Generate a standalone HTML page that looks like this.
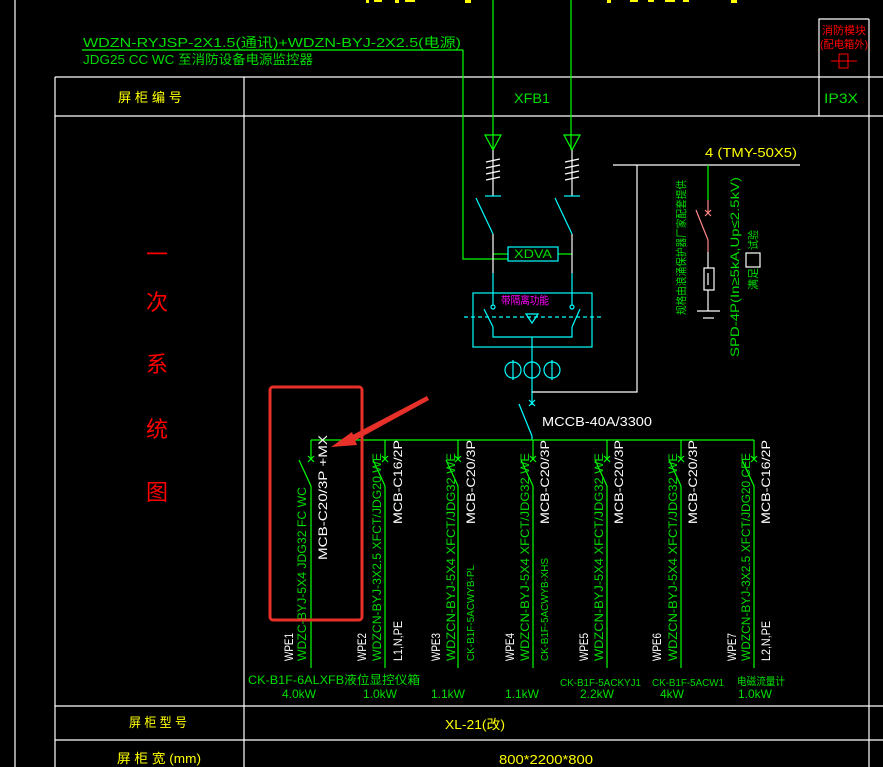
<!DOCTYPE html>
<html><head><meta charset="utf-8"><style>
html,body{margin:0;padding:0;background:#000;width:883px;height:767px;overflow:hidden}
svg{display:block}
text{font-family:"Liberation Sans","Noto Sans CJK SC",sans-serif}
</style></head><body>
<svg width="883" height="767" viewBox="0 0 883 767" xmlns="http://www.w3.org/2000/svg">
<g stroke="#fff" stroke-width="1.2" fill="none">
<line x1="15" y1="0" x2="15" y2="767"/>
<line x1="55" y1="77" x2="883" y2="77"/>
<line x1="55" y1="116" x2="883" y2="116"/>
<line x1="55" y1="706" x2="883" y2="706"/>
<line x1="55" y1="740" x2="883" y2="740"/>
<line x1="55" y1="77" x2="55" y2="767"/>
<line x1="244" y1="77" x2="244" y2="767"/>
<line x1="869" y1="19" x2="869" y2="767"/>
<polyline points="819,116 819,19 869,19"/>
</g>
<g fill="#ff0">
<rect x="366" y="0" width="3" height="3"/><rect x="374" y="0" width="8" height="2"/><rect x="395" y="0" width="4" height="3"/><rect x="405" y="0" width="10" height="2"/><rect x="465" y="0" width="6" height="3"/>
<rect x="607" y="0" width="4" height="3"/><rect x="630" y="0" width="8" height="2"/><rect x="648" y="0" width="6" height="2"/><rect x="665" y="0" width="10" height="2"/><rect x="683" y="0" width="6" height="2"/><rect x="731" y="0" width="6" height="3"/>
</g>
<text x="844" y="34" fill="#f00" font-size="11" text-anchor="middle" textLength="44" lengthAdjust="spacingAndGlyphs">消防模块</text>
<text x="844" y="48" fill="#f00" font-size="11" text-anchor="middle" textLength="48" lengthAdjust="spacingAndGlyphs">(配电箱外)</text>
<rect x="839" y="54" width="9" height="14" fill="none" stroke="#f00"/>
<line x1="831" y1="61" x2="857" y2="61" stroke="#f00"/>
<text x="83" y="47" fill="#0d0" font-size="13" textLength="378" lengthAdjust="spacingAndGlyphs">WDZN-RYJSP-2X1.5(通讯)+WDZN-BYJ-2X2.5(电源)</text>
<line x1="82" y1="50" x2="463" y2="50" stroke="#0f0" stroke-width="1.2"/>
<text x="83" y="64" fill="#0d0" font-size="13" textLength="230" lengthAdjust="spacingAndGlyphs">JDG25  CC  WC  至消防设备电源监控器</text>
<text x="150" y="102" fill="#ff0" font-size="13" text-anchor="middle" textLength="64" lengthAdjust="spacingAndGlyphs">屏 柜 编 号</text>
<text x="532" y="103" fill="#0d0" font-size="14" text-anchor="middle" textLength="36" lengthAdjust="spacingAndGlyphs">XFB1</text>
<text x="841" y="103" fill="#0d0" font-size="14" text-anchor="middle" textLength="34" lengthAdjust="spacingAndGlyphs">IP3X</text>
<g fill="#f00" font-size="22" text-anchor="middle">
<text x="157" y="262">一</text><text x="157" y="310">次</text><text x="157" y="372">系</text><text x="157" y="437">统</text><text x="157" y="500">图</text>
</g>
<g stroke="#0f0" stroke-width="1.2" fill="none">
<polyline points="463,50 463,259 508,259"/>
<line x1="493" y1="0" x2="493" y2="150"/>
<line x1="571" y1="0" x2="571" y2="150"/>
<line x1="493" y1="254" x2="508" y2="254"/>
<line x1="558" y1="254" x2="572" y2="254"/>
<polygon points="485,135 501,135 493,150"/>
<polygon points="564,135 580,135 572,150"/>
</g>
<g stroke="#fff" stroke-width="1.2" fill="none">
<line x1="493" y1="150" x2="493" y2="196"/><line x1="572" y1="150" x2="572" y2="196"/>
<path d="M486,162l14,-3M486,168l14,-3M486,174l14,-3M486,180l14,-3"/>
<path d="M565,162l14,-3M565,168l14,-3M565,174l14,-3M565,180l14,-3"/>
<line x1="493" y1="234" x2="493" y2="273"/><line x1="572" y1="234" x2="572" y2="273"/>
</g>
<g stroke="#0ff" stroke-width="1.2" fill="none">
<line x1="485" y1="196" x2="501" y2="196"/><line x1="564" y1="196" x2="580" y2="196"/>
<line x1="476" y1="198" x2="493" y2="234"/><line x1="555" y1="198" x2="572" y2="234"/>
<rect x="508" y="247" width="50" height="14"/>
<line x1="493" y1="273" x2="493" y2="305"/><line x1="572" y1="273" x2="572" y2="305"/>
<rect x="473" y="293" width="119" height="54"/>
<line x1="464" y1="317" x2="601" y2="317" stroke-dasharray="4,3"/>
<circle cx="493" cy="307" r="2"/><circle cx="572" cy="307" r="2"/>
<line x1="484" y1="309" x2="493" y2="327"/><line x1="580" y1="309" x2="572" y2="327"/>
<polyline points="493,327 493,337 572,337 572,327"/>
<polygon points="526,314 538,314 532,323"/>
<line x1="532" y1="337" x2="532" y2="392"/>
<circle cx="513" cy="370" r="8"/><circle cx="532" cy="370" r="8"/><circle cx="552" cy="370" r="8"/>
<line x1="513" y1="360" x2="513" y2="380"/><line x1="552" y1="360" x2="552" y2="380"/>
<line x1="532" y1="392" x2="532" y2="405"/>
<path d="M529,400l6,6M535,400l-6,6"/>
<line x1="519" y1="404" x2="532" y2="436"/>
<line x1="532" y1="436" x2="532" y2="440"/>
</g>
<text x="533" y="258" fill="#0d0" font-size="12" text-anchor="middle" textLength="38" lengthAdjust="spacingAndGlyphs">XDVA</text>
<text x="525" y="304" fill="#f0f" font-size="11" text-anchor="middle" textLength="48" lengthAdjust="spacingAndGlyphs">带隔离功能</text>
<text x="542" y="426" fill="#fff" font-size="13" textLength="110" lengthAdjust="spacingAndGlyphs">MCCB-40A/3300</text>
<g stroke="#fff" stroke-width="1.2" fill="none">
<polyline points="532,392 637,392 637,165"/>
<line x1="613" y1="165" x2="800" y2="165"/>
<line x1="708" y1="252" x2="708" y2="268"/>
<rect x="704" y="268" width="10" height="22"/>
<line x1="708" y1="273" x2="708" y2="285"/>
<line x1="708" y1="290" x2="708" y2="311"/>
<line x1="697" y1="311" x2="720" y2="311"/><line x1="703" y1="318" x2="714" y2="318"/>
<rect x="746" y="253" width="14" height="14"/>
</g>
<line x1="708" y1="165" x2="708" y2="200" stroke="#0f0" stroke-width="1.2"/>
<g stroke="#f88" stroke-width="1.2" fill="none">
<line x1="708" y1="200" x2="708" y2="213"/>
<path d="M705,210l6,6M711,210l-6,6"/>
<line x1="696" y1="210" x2="708" y2="240"/>
<line x1="708" y1="240" x2="708" y2="252"/>
</g>
<text x="705" y="157" fill="#ff0" font-size="13" textLength="92" lengthAdjust="spacingAndGlyphs">4 (TMY-50X5)</text>
<text transform="translate(685,315) rotate(-90)" fill="#0d0" font-size="11" textLength="135" lengthAdjust="spacingAndGlyphs">规格由浪涌保护器厂家配套提供</text>
<text transform="translate(739,357) rotate(-90)" fill="#0d0" font-size="12" textLength="180" lengthAdjust="spacingAndGlyphs">SPD-4P(In≥5kA,Up≤2.5kV)</text>
<text transform="translate(757,290) rotate(-90)" fill="#0d0" font-size="11" textLength="22" lengthAdjust="spacingAndGlyphs">满足</text>
<text transform="translate(757,250) rotate(-90)" fill="#0d0" font-size="11" textLength="20" lengthAdjust="spacingAndGlyphs">试验</text>
<g stroke="#0f0" stroke-width="1.2" fill="none">
<line x1="311" y1="440" x2="754" y2="440"/>
<line x1="311" y1="440" x2="311" y2="459"/><line x1="299" y1="460" x2="311" y2="486"/><line x1="311" y1="486" x2="311" y2="668"/><path d="M308,456l6,6M314,456l-6,6"/>
<line x1="385" y1="440" x2="385" y2="459"/><line x1="373" y1="460" x2="385" y2="486"/><line x1="385" y1="486" x2="385" y2="668"/><path d="M382,456l6,6M388,456l-6,6"/>
<line x1="458" y1="440" x2="458" y2="459"/><line x1="446" y1="460" x2="458" y2="486"/><line x1="458" y1="486" x2="458" y2="668"/><path d="M455,456l6,6M461,456l-6,6"/>
<line x1="533" y1="440" x2="533" y2="459"/><line x1="521" y1="460" x2="533" y2="486"/><line x1="533" y1="486" x2="533" y2="668"/><path d="M530,456l6,6M536,456l-6,6"/>
<line x1="607" y1="440" x2="607" y2="459"/><line x1="595" y1="460" x2="607" y2="486"/><line x1="607" y1="486" x2="607" y2="668"/><path d="M604,456l6,6M610,456l-6,6"/>
<line x1="681" y1="440" x2="681" y2="459"/><line x1="669" y1="460" x2="681" y2="486"/><line x1="681" y1="486" x2="681" y2="668"/><path d="M678,456l6,6M684,456l-6,6"/>
<line x1="754" y1="440" x2="754" y2="459"/><line x1="742" y1="460" x2="754" y2="486"/><line x1="754" y1="486" x2="754" y2="668"/><path d="M751,456l6,6M757,456l-6,6"/>
</g>
<g font-size="12">
<text transform="translate(293,661) rotate(-90)" fill="#fff" textLength="28" lengthAdjust="spacingAndGlyphs">WPE1</text>
<text transform="translate(306,661) rotate(-90)" fill="#0d0" textLength="174" lengthAdjust="spacingAndGlyphs">WDZC-BYJ-5X4  JDG32  FC  WC</text>
<text transform="translate(327,560) rotate(-90)" fill="#fff" textLength="125" lengthAdjust="spacingAndGlyphs">MCB-C20/3P  +MX</text>
<text transform="translate(366,661) rotate(-90)" fill="#fff" textLength="28" lengthAdjust="spacingAndGlyphs">WPE2</text>
<text transform="translate(381,661) rotate(-90)" fill="#0d0" textLength="208" lengthAdjust="spacingAndGlyphs">WDZCN-BYJ-3X2.5  XFCT/JDG20  WE</text>
<text transform="translate(402,524) rotate(-90)" fill="#fff" textLength="84" lengthAdjust="spacingAndGlyphs">MCB-C16/2P</text>
<text transform="translate(402,661) rotate(-90)" fill="#fff" textLength="40" lengthAdjust="spacingAndGlyphs">L1,N,PE</text>
<text transform="translate(440,661) rotate(-90)" fill="#fff" textLength="28" lengthAdjust="spacingAndGlyphs">WPE3</text>
<text transform="translate(455,661) rotate(-90)" fill="#0d0" textLength="208" lengthAdjust="spacingAndGlyphs">WDZCN-BYJ-5X4  XFCT/JDG32  WE</text>
<text transform="translate(475,524) rotate(-90)" fill="#fff" textLength="84" lengthAdjust="spacingAndGlyphs">MCB-C20/3P</text>
<text transform="translate(474,661) rotate(-90)" fill="#0d0" font-size="10" textLength="96" lengthAdjust="spacingAndGlyphs">CK-B1F-5ACWYB-PL</text>
<text transform="translate(514,661) rotate(-90)" fill="#fff" textLength="28" lengthAdjust="spacingAndGlyphs">WPE4</text>
<text transform="translate(529,661) rotate(-90)" fill="#0d0" textLength="208" lengthAdjust="spacingAndGlyphs">WDZCN-BYJ-5X4  XFCT/JDG32  WE</text>
<text transform="translate(549,524) rotate(-90)" fill="#fff" textLength="84" lengthAdjust="spacingAndGlyphs">MCB-C20/3P</text>
<text transform="translate(548,661) rotate(-90)" fill="#0d0" font-size="10" textLength="103" lengthAdjust="spacingAndGlyphs">CK-B1F-5ACWYB-XHS</text>
<text transform="translate(588,661) rotate(-90)" fill="#fff" textLength="28" lengthAdjust="spacingAndGlyphs">WPE5</text>
<text transform="translate(603,661) rotate(-90)" fill="#0d0" textLength="208" lengthAdjust="spacingAndGlyphs">WDZCN-BYJ-5X4  XFCT/JDG32  WE</text>
<text transform="translate(623,524) rotate(-90)" fill="#fff" textLength="84" lengthAdjust="spacingAndGlyphs">MCB-C20/3P</text>
<text transform="translate(661,661) rotate(-90)" fill="#fff" textLength="28" lengthAdjust="spacingAndGlyphs">WPE6</text>
<text transform="translate(677,661) rotate(-90)" fill="#0d0" textLength="208" lengthAdjust="spacingAndGlyphs">WDZCN-BYJ-5X4  XFCT/JDG32  WE</text>
<text transform="translate(697,524) rotate(-90)" fill="#fff" textLength="84" lengthAdjust="spacingAndGlyphs">MCB-C20/3P</text>
<text transform="translate(736,661) rotate(-90)" fill="#fff" textLength="28" lengthAdjust="spacingAndGlyphs">WPE7</text>
<text transform="translate(750,661) rotate(-90)" fill="#0d0" textLength="208" lengthAdjust="spacingAndGlyphs">WDZCN-BYJ-3X2.5  XFCT/JDG20  CEE</text>
<text transform="translate(770,524) rotate(-90)" fill="#fff" textLength="84" lengthAdjust="spacingAndGlyphs">MCB-C16/2P</text>
<text transform="translate(770,661) rotate(-90)" fill="#fff" textLength="40" lengthAdjust="spacingAndGlyphs">L2,N,PE</text>
</g>
<g fill="#0d0" font-size="12">
<text x="248" y="684" textLength="172" lengthAdjust="spacingAndGlyphs">CK-B1F-6ALXFB液位显控仪箱</text>
<text x="560" y="686" font-size="10" textLength="81" lengthAdjust="spacingAndGlyphs">CK-B1F-5ACKYJ1</text>
<text x="652" y="686" font-size="10" textLength="72" lengthAdjust="spacingAndGlyphs">CK-B1F-5ACW1</text>
<text x="737" y="685" font-size="11" textLength="48" lengthAdjust="spacingAndGlyphs">电磁流量计</text>
<g text-anchor="middle">
<text x="299" y="698">4.0kW</text><text x="380" y="698">1.0kW</text><text x="448" y="698">1.1kW</text>
<text x="522" y="698">1.1kW</text><text x="597" y="698">2.2kW</text><text x="672" y="698">4kW</text><text x="755" y="698">1.0kW</text>
</g>
</g>
<text x="158" y="727" fill="#ff0" font-size="13" text-anchor="middle" textLength="58" lengthAdjust="spacingAndGlyphs">屏 柜 型 号</text>
<text x="475" y="729" fill="#ff0" font-size="13" text-anchor="middle" textLength="60" lengthAdjust="spacingAndGlyphs">XL-21(改)</text>
<text x="159" y="763" fill="#ff0" font-size="13" text-anchor="middle" textLength="84" lengthAdjust="spacingAndGlyphs">屏 柜 宽 (mm)</text>
<text x="546" y="764" fill="#ff0" font-size="13" text-anchor="middle" textLength="94" lengthAdjust="spacingAndGlyphs">800*2200*800</text>
<rect x="270" y="387" width="92" height="233" rx="3" fill="none" stroke="#e8302a" stroke-width="3"/>
<polygon points="427,396 343,440 345,446 429,400" fill="#e8302a"/>
<polygon points="331,447 352,432 357,445" fill="#e8302a"/>
</svg>
</body></html>
